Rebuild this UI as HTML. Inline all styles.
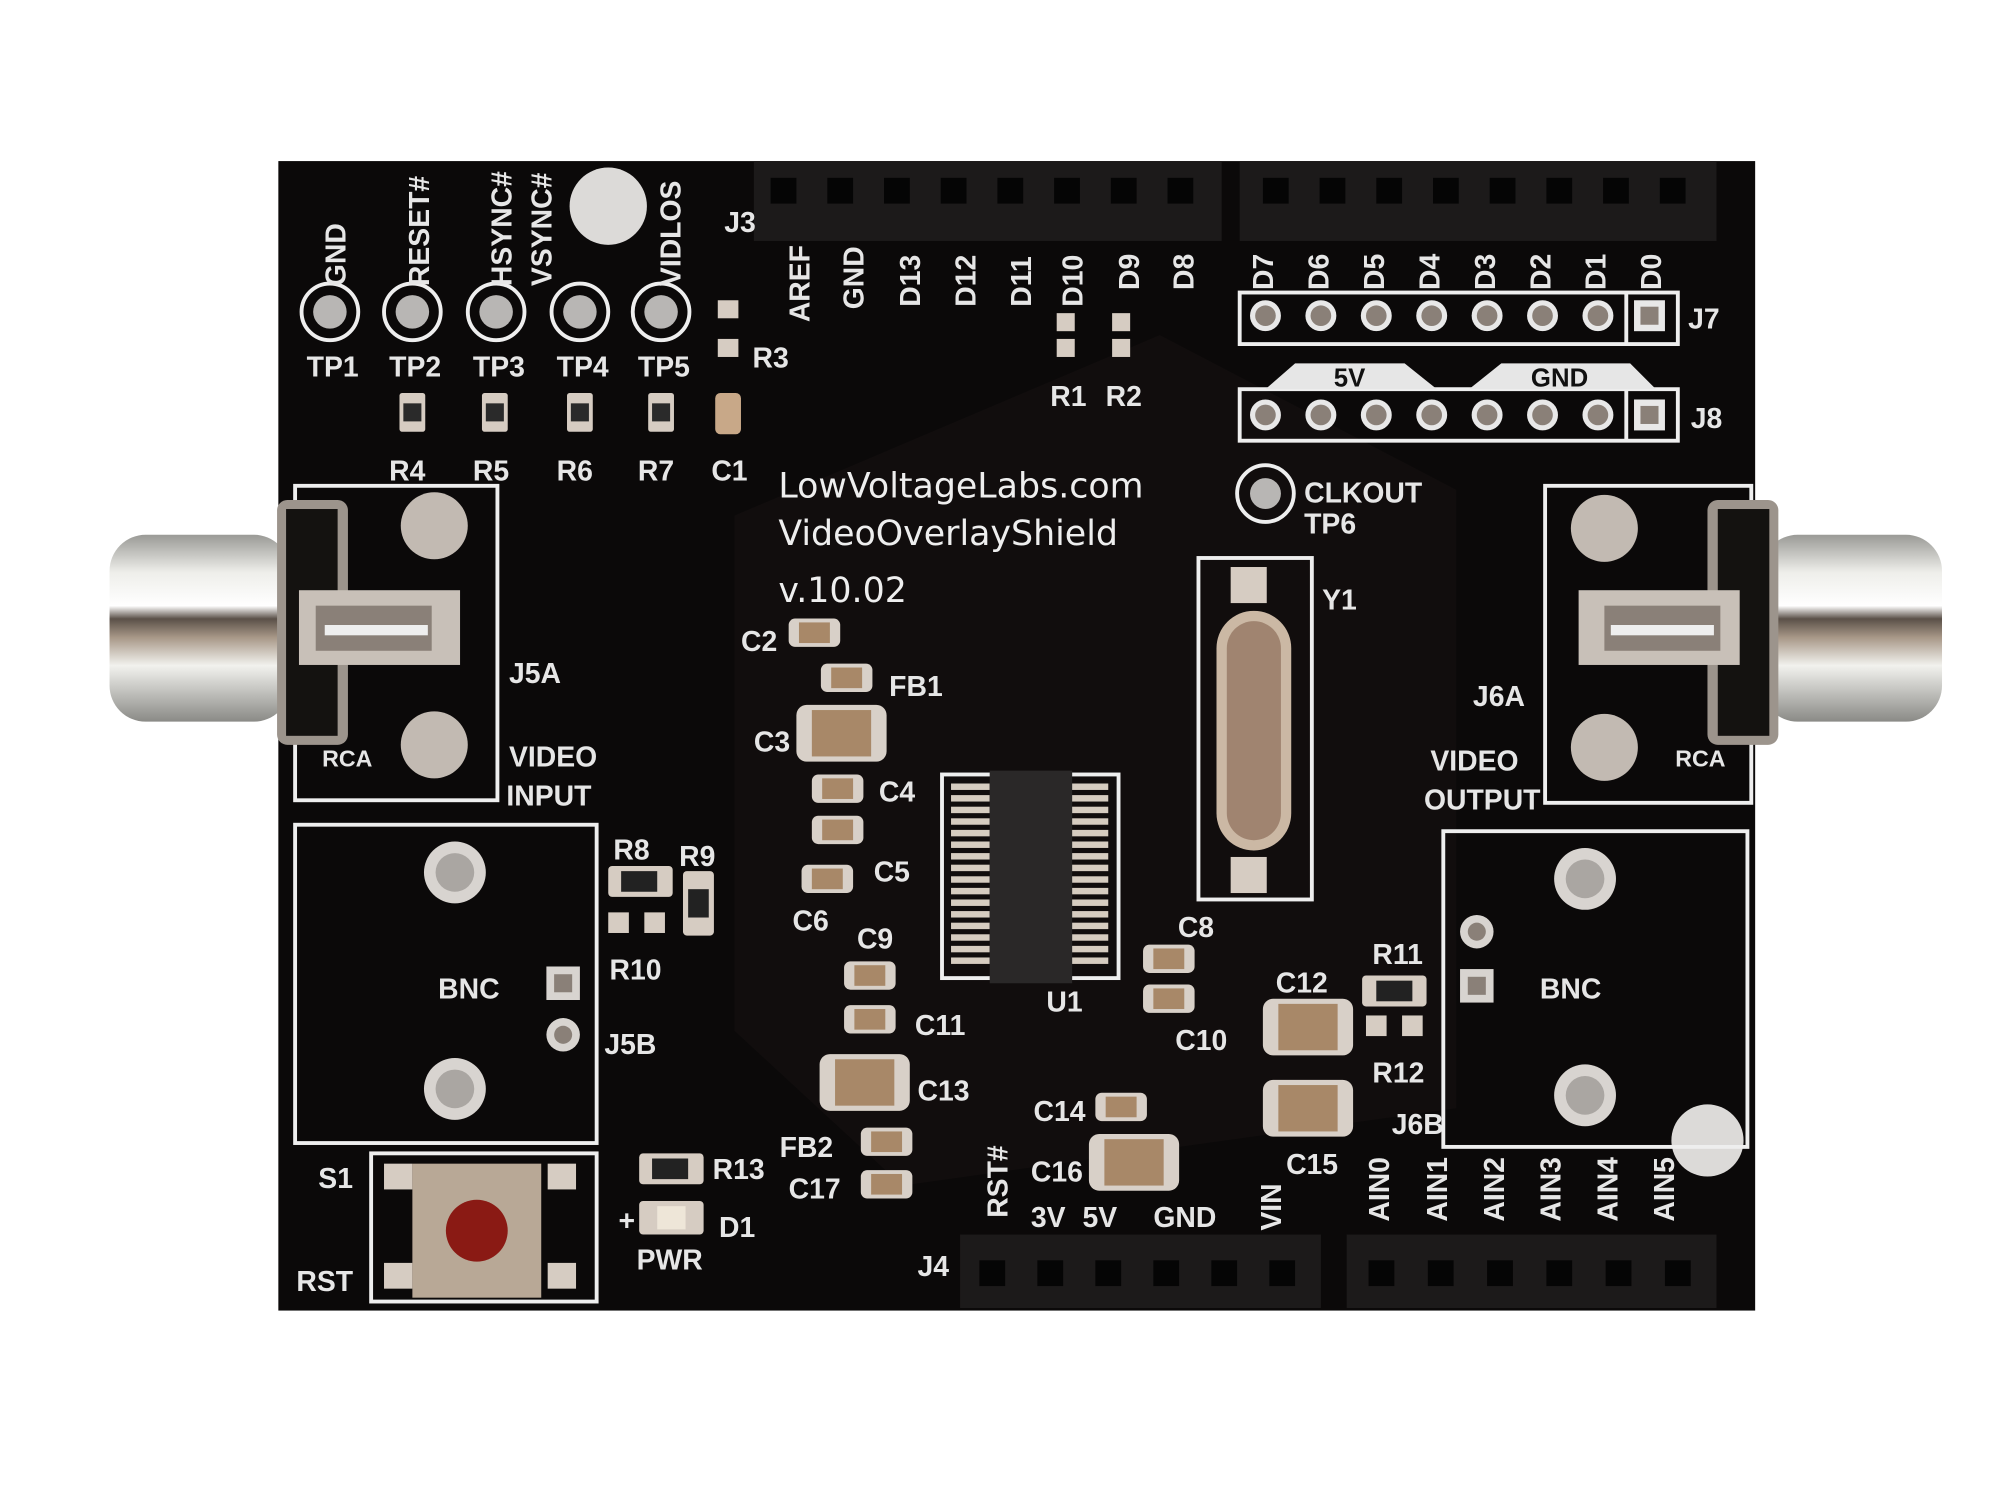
<!DOCTYPE html>
<html><head><meta charset="utf-8"><style>
html,body{margin:0;padding:0;background:#fff;}
svg{display:block}
text{font-family:"Liberation Sans Narrow","Liberation Sans",sans-serif;font-weight:bold;fill:#e6e6e6;}
.t{font-size:22px}
.big{font-family:"DejaVu Sans","Liberation Sans",sans-serif;font-weight:normal;font-size:27px;fill:#eee}
</style></head><body>
<svg width="2000" height="1500" viewBox="0 0 1552 1164" preserveAspectRatio="none" xmlns="http://www.w3.org/2000/svg">
<defs>
<linearGradient id="chrome" x1="0" y1="0" x2="0" y2="1">
<stop offset="0" stop-color="#9a9a96"/><stop offset="0.2" stop-color="#eeeeea"/><stop offset="0.38" stop-color="#ffffff"/><stop offset="0.45" stop-color="#5a5048"/><stop offset="0.55" stop-color="#a89888"/><stop offset="0.7" stop-color="#f2f2ee"/><stop offset="1" stop-color="#8a8a86"/></linearGradient>
<g id="cap"><rect x="0" y="0" width="40" height="22" rx="5" fill="#d8d0c8"/><rect x="8" y="3" width="24" height="16" fill="#a88868"/></g>
<g id="capB"><rect x="0" y="0" width="70" height="44" rx="8" fill="#d8d0c8"/><rect x="12" y="4" width="46" height="36" fill="#a88868"/></g>
<g id="res"><rect x="0" y="0" width="20" height="30" rx="2" fill="#d6ccc2"/><rect x="3" y="8" width="14" height="14" fill="#2a2a2a"/></g>
<g id="pin"><circle r="12" fill="#e8e8e8"/><circle r="8" fill="#8a8078"/></g>
<g id="hole"><rect x="-8" y="-8" width="16" height="16" fill="#050505"/></g>
</defs>

<!-- board -->
<rect x="216" y="125" width="1146" height="892" fill="#0b0909"/>
<path d="M570 400 L900 260 L1130 380 L1130 860 L700 920 L570 800 Z" fill="#141010" opacity="0.7"/>

<!-- top headers -->
<rect x="585" y="125" width="363" height="62" fill="#1c1a1a"/>
<rect x="962" y="125" width="370" height="62" fill="#1c1a1a"/>
<g fill="#050505">
<rect x="598" y="138" width="20" height="20"/><rect x="642" y="138" width="20" height="20"/><rect x="686" y="138" width="20" height="20"/><rect x="730" y="138" width="20" height="20"/><rect x="774" y="138" width="20" height="20"/><rect x="818" y="138" width="20" height="20"/><rect x="862" y="138" width="20" height="20"/><rect x="906" y="138" width="20" height="20"/>
<rect x="980" y="138" width="20" height="20"/><rect x="1024" y="138" width="20" height="20"/><rect x="1068" y="138" width="20" height="20"/><rect x="1112" y="138" width="20" height="20"/><rect x="1156" y="138" width="20" height="20"/><rect x="1200" y="138" width="20" height="20"/><rect x="1244" y="138" width="20" height="20"/><rect x="1288" y="138" width="20" height="20"/>
</g>
<!-- bottom headers -->
<rect x="745" y="958" width="280" height="57" fill="#1c1a1a"/>
<rect x="1045" y="958" width="287" height="57" fill="#1c1a1a"/>
<g fill="#050505">
<rect x="760" y="978" width="20" height="20"/><rect x="805" y="978" width="20" height="20"/><rect x="850" y="978" width="20" height="20"/><rect x="895" y="978" width="20" height="20"/><rect x="940" y="978" width="20" height="20"/><rect x="985" y="978" width="20" height="20"/>
<rect x="1062" y="978" width="20" height="20"/><rect x="1108" y="978" width="20" height="20"/><rect x="1154" y="978" width="20" height="20"/><rect x="1200" y="978" width="20" height="20"/><rect x="1246" y="978" width="20" height="20"/><rect x="1292" y="978" width="20" height="20"/>
</g>

<!-- mounting holes -->
<circle cx="472" cy="160" r="30" fill="#dcdad8"/>
<circle cx="1325" cy="885" r="28" fill="#dcdad8"/>

<!-- test points -->
<g stroke="#eee" stroke-width="3" fill="none">
<circle cx="256" cy="242" r="22"/><circle cx="320" cy="242" r="22"/><circle cx="385" cy="242" r="22"/><circle cx="450" cy="242" r="22"/><circle cx="513" cy="242" r="22"/><circle cx="982" cy="383" r="22"/>
</g>
<g fill="#b8b6b4"><circle cx="256" cy="242" r="13"/><circle cx="320" cy="242" r="13"/><circle cx="385" cy="242" r="13"/><circle cx="450" cy="242" r="13"/><circle cx="513" cy="242" r="13"/><circle cx="982" cy="383" r="12"/></g>
<g class="t">
<text x="238" y="292">TP1</text><text x="302" y="292">TP2</text><text x="367" y="292">TP3</text><text x="432" y="292">TP4</text><text x="495" y="292">TP5</text>
<text transform="translate(268,222) rotate(-90)">GND</text>
<text transform="translate(333,222) rotate(-90)">RESET#</text>
<text transform="translate(397,222) rotate(-90)">HSYNC#</text>
<text transform="translate(428,222) rotate(-90)">VSYNC#</text>
<text transform="translate(528,222) rotate(-90)">VIDLOS</text>
<text x="302" y="373">R4</text><text x="367" y="373">R5</text><text x="432" y="373">R6</text><text x="495" y="373">R7</text><text x="552" y="373">C1</text><text x="584" y="285">R3</text>
<text x="562" y="180">J3</text>
</g>
<use href="#res" x="310" y="305"/><use href="#res" x="374" y="305"/><use href="#res" x="440" y="305"/><use href="#res" x="503" y="305"/>
<rect x="555" y="305" width="20" height="32" rx="4" fill="#c8a888"/>
<rect x="557" y="233" width="16" height="14" fill="#d6ccc2"/><rect x="557" y="263" width="16" height="14" fill="#d6ccc2"/>

<!-- J3 labels -->
<g class="t">
<text transform="translate(628,250) rotate(-90)">AREF</text>
<text transform="translate(670,240) rotate(-90)">GND</text>
<text transform="translate(714,238) rotate(-90)">D13</text>
<text transform="translate(757,238) rotate(-90)">D12</text>
<text transform="translate(800,238) rotate(-90)">D11</text>
<text transform="translate(840,238) rotate(-90)">D10</text>
<text transform="translate(884,225) rotate(-90)">D9</text>
<text transform="translate(926,225) rotate(-90)">D8</text>
<text x="815" y="315">R1</text><text x="858" y="315">R2</text>
</g>
<rect x="820" y="243" width="14" height="14" fill="#d6ccc2"/><rect x="820" y="263" width="14" height="14" fill="#d6ccc2"/>
<rect x="863" y="243" width="14" height="14" fill="#d6ccc2"/><rect x="863" y="263" width="14" height="14" fill="#d6ccc2"/>

<!-- J7 / J8 -->
<g class="t">
<text transform="translate(988,225) rotate(-90)">D7</text><text transform="translate(1031,225) rotate(-90)">D6</text><text transform="translate(1074,225) rotate(-90)">D5</text><text transform="translate(1117,225) rotate(-90)">D4</text><text transform="translate(1160,225) rotate(-90)">D3</text><text transform="translate(1203,225) rotate(-90)">D2</text><text transform="translate(1246,225) rotate(-90)">D1</text><text transform="translate(1289,225) rotate(-90)">D0</text>
<text x="1310" y="255">J7</text><text x="1312" y="332">J8</text>
</g>
<g stroke="#eee" stroke-width="3" fill="none">
<rect x="962" y="227" width="340" height="40"/><line x1="1262" y1="227" x2="1262" y2="267"/>
<rect x="962" y="302" width="340" height="40"/><line x1="1262" y1="302" x2="1262" y2="342"/>
</g>
<path d="M982 302 L1005 282 L1090 282 L1115 302 Z M1140 302 L1165 282 L1265 282 L1285 302 Z" fill="#e6e6e6"/>
<text x="1035" y="300" style="font-size:20px;fill:#111">5V</text><text x="1188" y="300" style="font-size:20px;fill:#111">GND</text>
<g>
<use href="#pin" x="982" y="245"/><use href="#pin" x="1025" y="245"/><use href="#pin" x="1068" y="245"/><use href="#pin" x="1111" y="245"/><use href="#pin" x="1154" y="245"/><use href="#pin" x="1197" y="245"/><use href="#pin" x="1240" y="245"/>
<use href="#pin" x="982" y="322"/><use href="#pin" x="1025" y="322"/><use href="#pin" x="1068" y="322"/><use href="#pin" x="1111" y="322"/><use href="#pin" x="1154" y="322"/><use href="#pin" x="1197" y="322"/><use href="#pin" x="1240" y="322"/>
</g>
<rect x="1268" y="233" width="24" height="24" fill="#e8e8e8"/><rect x="1273" y="238" width="14" height="14" fill="#8a8078"/>
<rect x="1268" y="310" width="24" height="24" fill="#e8e8e8"/><rect x="1273" y="315" width="14" height="14" fill="#8a8078"/>

<!-- center texts -->
<text class="big" x="604" y="386">LowVoltageLabs.com</text>
<text class="big" x="604" y="423">VideoOverlayShield</text>
<text class="big" x="604" y="467">v.10.02</text>
<g class="t"><text x="1012" y="390">CLKOUT</text><text x="1012" y="414">TP6</text><text x="1026" y="473">Y1</text></g>

<!-- crystal -->
<rect x="930" y="433" width="88" height="265" fill="none" stroke="#eee" stroke-width="3"/>
<rect x="955" y="440" width="28" height="28" fill="#d6ccc2"/><rect x="955" y="665" width="28" height="28" fill="#d6ccc2"/>
<rect x="944" y="474" width="58" height="186" rx="29" fill="#cbb8a4"/>
<rect x="952" y="482" width="42" height="170" rx="21" fill="#a08470"/>

<!-- U1 -->
<rect x="731" y="601" width="137" height="158" fill="none" stroke="#eee" stroke-width="3"/>
<g fill="#d6ccc0">
<rect x="738" y="608" width="30" height="5"/><rect x="738" y="617" width="30" height="5"/><rect x="738" y="626" width="30" height="5"/><rect x="738" y="635" width="30" height="5"/><rect x="738" y="644" width="30" height="5"/><rect x="738" y="653" width="30" height="5"/><rect x="738" y="662" width="30" height="5"/><rect x="738" y="671" width="30" height="5"/><rect x="738" y="680" width="30" height="5"/><rect x="738" y="689" width="30" height="5"/><rect x="738" y="698" width="30" height="5"/><rect x="738" y="707" width="30" height="5"/><rect x="738" y="716" width="30" height="5"/><rect x="738" y="725" width="30" height="5"/><rect x="738" y="734" width="30" height="5"/><rect x="738" y="743" width="30" height="5"/>
<rect x="830" y="608" width="30" height="5"/><rect x="830" y="617" width="30" height="5"/><rect x="830" y="626" width="30" height="5"/><rect x="830" y="635" width="30" height="5"/><rect x="830" y="644" width="30" height="5"/><rect x="830" y="653" width="30" height="5"/><rect x="830" y="662" width="30" height="5"/><rect x="830" y="671" width="30" height="5"/><rect x="830" y="680" width="30" height="5"/><rect x="830" y="689" width="30" height="5"/><rect x="830" y="698" width="30" height="5"/><rect x="830" y="707" width="30" height="5"/><rect x="830" y="716" width="30" height="5"/><rect x="830" y="725" width="30" height="5"/><rect x="830" y="734" width="30" height="5"/><rect x="830" y="743" width="30" height="5"/>
</g>
<rect x="768" y="598" width="64" height="165" fill="#2a2828"/>
<text class="t" x="812" y="785">U1</text>

<!-- caps in middle column -->
<use href="#cap" x="612" y="480"/><use href="#cap" x="637" y="515"/>
<use href="#capB" x="618" y="547"/>
<use href="#cap" x="630" y="601"/><use href="#cap" x="630" y="633"/><use href="#cap" x="622" y="671"/>
<use href="#cap" x="655" y="746"/><use href="#cap" x="655" y="780"/>
<use href="#capB" x="636" y="818"/>
<use href="#cap" x="668" y="875"/><use href="#cap" x="668" y="908"/>
<use href="#cap" x="887" y="733"/><use href="#cap" x="887" y="764"/>
<use href="#cap" x="850" y="848"/><use href="#capB" x="845" y="880"/>
<use href="#capB" x="980" y="775"/><use href="#capB" x="980" y="838"/>
<g class="t">
<text x="575" y="505">C2</text><text x="690" y="540">FB1</text><text x="585" y="583">C3</text><text x="682" y="622">C4</text><text x="678" y="684">C5</text><text x="615" y="722">C6</text>
<text x="665" y="736">C9</text><text x="710" y="803">C11</text><text x="712" y="854">C13</text><text x="605" y="898">FB2</text><text x="612" y="930">C17</text>
<text x="914" y="727">C8</text><text x="912" y="815">C10</text><text x="802" y="870">C14</text><text x="800" y="917">C16</text>
<text x="990" y="770">C12</text><text x="998" y="911">C15</text><text x="1065" y="748">R11</text><text x="1065" y="840">R12</text>
<text x="476" y="667">R8</text><text x="527" y="672">R9</text><text x="473" y="760">R10</text><text x="553" y="915">R13</text><text x="558" y="960">D1</text><text x="494" y="985">PWR</text>
<text x="712" y="990">J4</text><text x="1080" y="880">J6B</text><text x="469" y="818">J5B</text>
<text x="247" y="922">S1</text><text x="230" y="1002">RST</text>
</g>
<rect x="1057" y="757" width="50" height="24" rx="3" fill="#d6ccc2"/><rect x="1068" y="761" width="28" height="16" fill="#222"/>
<rect x="1060" y="788" width="16" height="16" fill="#d6ccc2"/><rect x="1088" y="788" width="16" height="16" fill="#d6ccc2"/>
<rect x="472" y="672" width="50" height="24" rx="3" fill="#d6ccc2"/><rect x="482" y="676" width="28" height="16" fill="#222"/>
<rect x="530" y="676" width="24" height="50" rx="3" fill="#d6ccc2"/><rect x="534" y="690" width="16" height="22" fill="#222"/>
<rect x="472" y="708" width="16" height="16" fill="#d6ccc2"/><rect x="500" y="708" width="16" height="16" fill="#d6ccc2"/>
<rect x="496" y="895" width="50" height="24" rx="3" fill="#d6ccc2"/><rect x="506" y="899" width="28" height="16" fill="#222"/>
<rect x="496" y="932" width="50" height="26" rx="3" fill="#d6ccc2"/><rect x="510" y="936" width="22" height="18" fill="#eee6d8"/>
<text class="t" x="480" y="955">+</text>

<!-- bottom labels -->
<g class="t">
<text transform="translate(782,945) rotate(-90)">RST#</text>
<text x="800" y="952">3V</text><text x="840" y="952">5V</text><text x="895" y="952">GND</text>
<text transform="translate(994,955) rotate(-90)">VIN</text>
<text transform="translate(1078,948) rotate(-90)">AIN0</text><text transform="translate(1123,948) rotate(-90)">AIN1</text><text transform="translate(1167,948) rotate(-90)">AIN2</text><text transform="translate(1211,948) rotate(-90)">AIN3</text><text transform="translate(1255,948) rotate(-90)">AIN4</text><text transform="translate(1299,948) rotate(-90)">AIN5</text>
</g>

<!-- left RCA -->
<rect x="229" y="377" width="157" height="244" fill="none" stroke="#eee" stroke-width="3"/>
<rect x="85" y="415" width="140" height="145" rx="28" fill="url(#chrome)"/>
<rect x="215" y="388" width="55" height="190" rx="8" fill="#9c948c"/>
<rect x="222" y="395" width="40" height="176" fill="#141210"/>
<rect x="232" y="458" width="125" height="58" fill="#c8c0b8"/><rect x="245" y="470" width="90" height="35" fill="#8a8078"/><rect x="252" y="485" width="80" height="8" fill="#eee"/>
<circle cx="337" cy="408" r="26" fill="#c2bab2"/><circle cx="337" cy="578" r="26" fill="#c2bab2"/>
<g class="t"><text x="250" y="595" style="font-size:18px">RCA</text><text x="395" y="530">J5A</text><text x="395" y="595">VIDEO</text><text x="393" y="625">INPUT</text></g>

<!-- right RCA -->
<rect x="1199" y="377" width="160" height="246" fill="none" stroke="#eee" stroke-width="3"/>
<rect x="1367" y="415" width="140" height="145" rx="28" fill="url(#chrome)"/>
<rect x="1325" y="388" width="55" height="190" rx="8" fill="#9c948c"/>
<rect x="1333" y="395" width="40" height="176" fill="#141210"/>
<rect x="1225" y="458" width="125" height="58" fill="#c8c0b8"/><rect x="1245" y="470" width="90" height="35" fill="#8a8078"/><rect x="1250" y="485" width="80" height="8" fill="#eee"/>
<circle cx="1245" cy="410" r="26" fill="#c2bab2"/><circle cx="1245" cy="580" r="26" fill="#c2bab2"/>
<g class="t"><text x="1300" y="595" style="font-size:18px">RCA</text><text x="1143" y="548">J6A</text><text x="1110" y="598">VIDEO</text><text x="1105" y="628">OUTPUT</text></g>

<!-- BNC boxes -->
<rect x="229" y="640" width="234" height="247" fill="none" stroke="#eee" stroke-width="3"/>
<circle cx="353" cy="677" r="24" fill="#d8d4d0"/><circle cx="353" cy="677" r="15" fill="#aaa6a2"/>
<circle cx="353" cy="845" r="24" fill="#d8d4d0"/><circle cx="353" cy="845" r="15" fill="#aaa6a2"/>
<rect x="424" y="750" width="26" height="26" fill="#d8d4d0"/><rect x="430" y="756" width="14" height="14" fill="#8a8078"/>
<circle cx="437" cy="803" r="13" fill="#d8d4d0"/><circle cx="437" cy="803" r="7" fill="#8a8078"/>
<text class="t" x="340" y="775">BNC</text>
<rect x="1120" y="645" width="236" height="245" fill="none" stroke="#eee" stroke-width="3"/>
<circle cx="1230" cy="682" r="24" fill="#d8d4d0"/><circle cx="1230" cy="682" r="15" fill="#aaa6a2"/>
<circle cx="1230" cy="850" r="24" fill="#d8d4d0"/><circle cx="1230" cy="850" r="15" fill="#aaa6a2"/>
<circle cx="1146" cy="723" r="13" fill="#d8d4d0"/><circle cx="1146" cy="723" r="7" fill="#8a8078"/>
<rect x="1133" y="752" width="26" height="26" fill="#d8d4d0"/><rect x="1139" y="758" width="14" height="14" fill="#8a8078"/>
<text class="t" x="1195" y="775">BNC</text>

<!-- reset button -->
<rect x="288" y="895" width="175" height="115" fill="none" stroke="#eee" stroke-width="3"/>
<rect x="298" y="903" width="22" height="20" fill="#d6ccc2"/><rect x="425" y="903" width="22" height="20" fill="#d6ccc2"/>
<rect x="298" y="980" width="22" height="20" fill="#d6ccc2"/><rect x="425" y="980" width="22" height="20" fill="#d6ccc2"/>
<rect x="320" y="903" width="100" height="104" fill="#b8a896"/>
<circle cx="370" cy="955" r="24" fill="#8a1a14"/>
</svg>
</body></html>
